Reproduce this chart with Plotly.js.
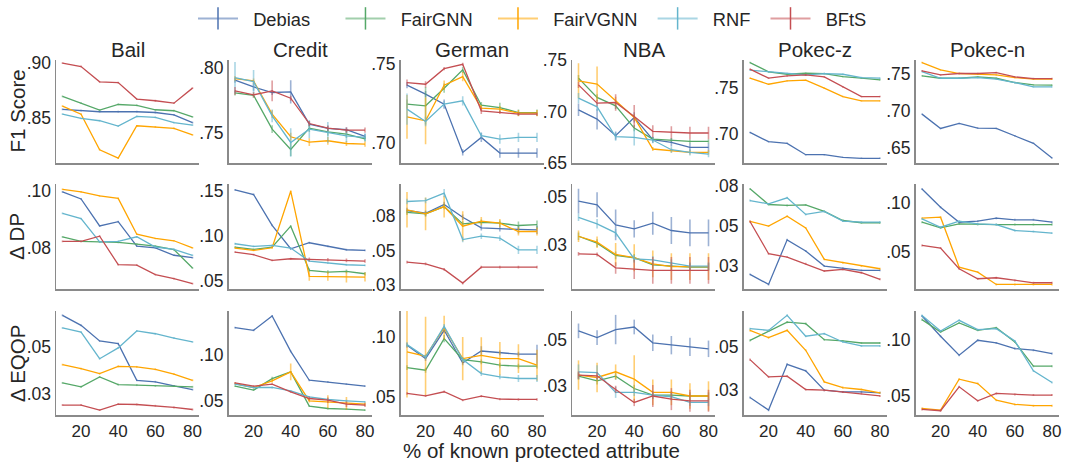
<!DOCTYPE html>
<html>
<head>
<meta charset="utf-8">
<script src="https://cdn.plot.ly/plotly-3.0.1.min.js"></script>
<style>html,body{margin:0;padding:0;background:#fff;}#chart{width:1066px;height:462px;}</style>
</head>
<body>
<div id="chart"></div>
<script>
// ---------------- data ----------------
const X = [10, 20, 30, 40, 50, 60, 70, 80];
const methods = ["Debias", "FairGNN", "FairVGNN", "RNF", "BFtS"];
const datasets = ["Bail", "Credit", "German", "NBA", "Pokec-z", "Pokec-n"];
const metrics = ["F1 Score", "Δ DP", "Δ EQOP"];
const xTickVals = [20, 40, 60, 80];

// rows: Debias, FairGNN, FairVGNN, RNF, BFtS
const F1_Bail = [
  [0.8573, 0.8561, 0.8552, 0.8552, 0.8552, 0.8545, 0.8524, 0.8452],
  [0.8691, 0.8630, 0.8567, 0.8618, 0.8609, 0.8570, 0.8561, 0.8506],
  [0.8603, 0.8530, 0.8206, 0.8130, 0.8424, 0.8415, 0.8400, 0.8342],
  [0.8530, 0.8491, 0.8470, 0.8421, 0.8509, 0.8500, 0.8452, 0.8430],
  [0.8995, 0.8964, 0.8824, 0.8818, 0.8667, 0.8652, 0.8630, 0.8767]];
const F1_Credit = [
  [0.7903, 0.7851, 0.7808, 0.7813, 0.7564, 0.7531, 0.7521, 0.7470],
  [0.7805, 0.7787, 0.7526, 0.7369, 0.7533, 0.7505, 0.7487, 0.7450],
  [0.7915, 0.7897, 0.7641, 0.7467, 0.7426, 0.7436, 0.7415, 0.7410],
  [0.7923, 0.7892, 0.7628, 0.7423, 0.7526, 0.7500, 0.7474, 0.7462],
  [0.7821, 0.7790, 0.7821, 0.7764, 0.7569, 0.7533, 0.7518, 0.7518]];
const F1_German = [
  [0.7366, 0.7309, 0.7245, 0.6936, 0.7032, 0.6932, 0.6932, 0.6932],
  [0.7245, 0.7234, 0.7347, 0.7464, 0.7238, 0.7223, 0.7191, 0.7191],
  [0.7164, 0.7138, 0.7366, 0.7421, 0.7219, 0.7213, 0.7187, 0.7187],
  [0.7213, 0.7134, 0.7245, 0.7266, 0.7043, 0.7021, 0.7032, 0.7032],
  [0.7383, 0.7372, 0.7472, 0.7500, 0.7202, 0.7191, 0.7181, 0.7181]];
const F1_NBA = [
  [0.7019, 0.6929, 0.6768, 0.6945, 0.6729, 0.6703, 0.6655, 0.6655],
  [0.7326, 0.7139, 0.7058, 0.6842, 0.6735, 0.6726, 0.6713, 0.6713],
  [0.7300, 0.7268, 0.7106, 0.6945, 0.6639, 0.6623, 0.6606, 0.6606],
  [0.7132, 0.7048, 0.6758, 0.6752, 0.6726, 0.6632, 0.6606, 0.6590],
  [0.7261, 0.7084, 0.7090, 0.6955, 0.6810, 0.6800, 0.6794, 0.6794]];
const F1_PokecZ = [
  [0.7018, 0.6917, 0.6899, 0.6775, 0.6775, 0.6746, 0.6736, 0.6736],
  [0.7779, 0.7678, 0.7652, 0.7663, 0.7659, 0.7627, 0.7609, 0.7591],
  [0.7609, 0.7543, 0.7580, 0.7587, 0.7500, 0.7409, 0.7362, 0.7362],
  [0.7696, 0.7678, 0.7659, 0.7645, 0.7659, 0.7652, 0.7616, 0.7609],
  [0.7707, 0.7609, 0.7634, 0.7645, 0.7623, 0.7514, 0.7409, 0.7409]];
const F1_PokecN = [
  [0.6955, 0.6761, 0.6829, 0.6766, 0.6761, 0.6662, 0.6559, 0.6360],
  [0.7473, 0.7441, 0.7441, 0.7459, 0.7441, 0.7383, 0.7351, 0.7347],
  [0.7653, 0.7554, 0.7505, 0.7495, 0.7486, 0.7450, 0.7428, 0.7428],
  [0.7532, 0.7441, 0.7441, 0.7450, 0.7428, 0.7383, 0.7324, 0.7324],
  [0.7541, 0.7486, 0.7505, 0.7505, 0.7518, 0.7459, 0.7437, 0.7437]];

const DP_Bail = [
  [0.0996, 0.0971, 0.0876, 0.0891, 0.0805, 0.0799, 0.0773, 0.0765],
  [0.0838, 0.0822, 0.0820, 0.0818, 0.0812, 0.0805, 0.0793, 0.0728],
  [0.1005, 0.0996, 0.0982, 0.0973, 0.0847, 0.0832, 0.0824, 0.0799],
  [0.0920, 0.0902, 0.0820, 0.0822, 0.0838, 0.0802, 0.0794, 0.0773],
  [0.0822, 0.0822, 0.0840, 0.0740, 0.0738, 0.0705, 0.0691, 0.0673]];
const DP_Credit = [
  [0.1515, 0.1463, 0.1119, 0.0859, 0.0926, 0.0885, 0.0848, 0.0841],
  [0.0878, 0.0852, 0.0878, 0.1111, 0.0619, 0.0600, 0.0607, 0.0581],
  [0.0867, 0.0841, 0.0870, 0.1500, 0.0552, 0.0552, 0.0544, 0.0544],
  [0.0915, 0.0885, 0.0896, 0.0867, 0.0722, 0.0700, 0.0681, 0.0674],
  [0.0822, 0.0793, 0.0730, 0.0748, 0.0741, 0.0737, 0.0730, 0.0722]];
const DP_German = [
  [0.0793, 0.0773, 0.0837, 0.0744, 0.0666, 0.0659, 0.0654, 0.0651],
  [0.0780, 0.0768, 0.0822, 0.0695, 0.0707, 0.0700, 0.0683, 0.0690],
  [0.0798, 0.0768, 0.0822, 0.0678, 0.0715, 0.0700, 0.0639, 0.0639],
  [0.0859, 0.0866, 0.0920, 0.0580, 0.0605, 0.0590, 0.0505, 0.0505],
  [0.0415, 0.0402, 0.0361, 0.0261, 0.0378, 0.0378, 0.0378, 0.0378]];
const DP_NBA = [
  [0.0476, 0.0457, 0.0352, 0.0332, 0.0361, 0.0323, 0.0311, 0.0311],
  [0.0293, 0.0257, 0.0193, 0.0181, 0.0144, 0.0137, 0.0132, 0.0132],
  [0.0293, 0.0262, 0.0198, 0.0181, 0.0149, 0.0135, 0.0135, 0.0135],
  [0.0392, 0.0358, 0.0311, 0.0175, 0.0170, 0.0153, 0.0137, 0.0137],
  [0.0201, 0.0198, 0.0128, 0.0120, 0.0115, 0.0115, 0.0115, 0.0115]];
const DP_PokecZ = [
  [0.0194, 0.0131, 0.0410, 0.0340, 0.0246, 0.0233, 0.0219, 0.0219],
  [0.0729, 0.0631, 0.0625, 0.0629, 0.0588, 0.0531, 0.0517, 0.0517],
  [0.0525, 0.0496, 0.0558, 0.0485, 0.0288, 0.0267, 0.0246, 0.0229],
  [0.0656, 0.0635, 0.0673, 0.0569, 0.0588, 0.0527, 0.0521, 0.0521],
  [0.0525, 0.0323, 0.0302, 0.0260, 0.0215, 0.0225, 0.0204, 0.0163]];
const DP_PokecN = [
  [0.1142, 0.0956, 0.0804, 0.0814, 0.0845, 0.0828, 0.0828, 0.0804],
  [0.0804, 0.0747, 0.0787, 0.0780, 0.0780, 0.0780, 0.0780, 0.0780],
  [0.0845, 0.0855, 0.0348, 0.0297, 0.0172, 0.0172, 0.0172, 0.0172],
  [0.0838, 0.0753, 0.0814, 0.0787, 0.0780, 0.0720, 0.0709, 0.0693],
  [0.0568, 0.0541, 0.0331, 0.0230, 0.0240, 0.0213, 0.0189, 0.0189]];

const EQ_Bail = [
  [0.0670, 0.0616, 0.0532, 0.0518, 0.0321, 0.0313, 0.0291, 0.0271],
  [0.0307, 0.0286, 0.0339, 0.0298, 0.0295, 0.0291, 0.0291, 0.0286],
  [0.0405, 0.0384, 0.0357, 0.0396, 0.0393, 0.0380, 0.0354, 0.0321],
  [0.0602, 0.0580, 0.0437, 0.0495, 0.0586, 0.0571, 0.0548, 0.0527],
  [0.0188, 0.0188, 0.0161, 0.0193, 0.0191, 0.0184, 0.0175, 0.0164]];
const EQ_Credit = [
  [0.1301, 0.1272, 0.1428, 0.1043, 0.0728, 0.0710, 0.0685, 0.0663],
  [0.0663, 0.0620, 0.0746, 0.0819, 0.0446, 0.0420, 0.0413, 0.0402],
  [0.0692, 0.0649, 0.0721, 0.0819, 0.0504, 0.0493, 0.0475, 0.0467],
  [0.0685, 0.0649, 0.0649, 0.0612, 0.0547, 0.0518, 0.0504, 0.0493],
  [0.0699, 0.0663, 0.0685, 0.0601, 0.0529, 0.0511, 0.0467, 0.0457]];
const EQ_German = [
  [0.0931, 0.0819, 0.1056, 0.0783, 0.0883, 0.0867, 0.0856, 0.0856],
  [0.0744, 0.0722, 0.0986, 0.0811, 0.0792, 0.0764, 0.0756, 0.0756],
  [0.0875, 0.0839, 0.1078, 0.0819, 0.0847, 0.0819, 0.0819, 0.0764],
  [0.0936, 0.0833, 0.1089, 0.0811, 0.0694, 0.0667, 0.0653, 0.0653],
  [0.0528, 0.0508, 0.0542, 0.0472, 0.0506, 0.0481, 0.0478, 0.0478]];
const EQ_NBA = [
  [0.0551, 0.0514, 0.0558, 0.0572, 0.0486, 0.0473, 0.0464, 0.0453],
  [0.0304, 0.0279, 0.0304, 0.0237, 0.0201, 0.0201, 0.0196, 0.0196],
  [0.0310, 0.0297, 0.0328, 0.0288, 0.0216, 0.0216, 0.0196, 0.0196],
  [0.0328, 0.0324, 0.0216, 0.0216, 0.0201, 0.0192, 0.0161, 0.0161],
  [0.0310, 0.0306, 0.0232, 0.0161, 0.0196, 0.0179, 0.0170, 0.0170]];
const EQ_PokecZ = [
  [0.0208, 0.0135, 0.0400, 0.0362, 0.0250, 0.0240, 0.0240, 0.0235],
  [0.0538, 0.0592, 0.0644, 0.0635, 0.0542, 0.0535, 0.0523, 0.0523],
  [0.0596, 0.0554, 0.0596, 0.0481, 0.0298, 0.0265, 0.0254, 0.0235],
  [0.0606, 0.0596, 0.0683, 0.0562, 0.0577, 0.0529, 0.0506, 0.0506],
  [0.0427, 0.0327, 0.0331, 0.0254, 0.0250, 0.0240, 0.0231, 0.0217]];
const EQ_PokecN = [
  [0.1217, 0.1036, 0.0866, 0.1000, 0.0976, 0.0926, 0.0911, 0.0881],
  [0.1185, 0.1074, 0.1155, 0.1089, 0.1113, 0.0985, 0.0768, 0.0768],
  [0.0390, 0.0375, 0.0652, 0.0613, 0.0464, 0.0426, 0.0414, 0.0414],
  [0.1223, 0.1083, 0.1179, 0.1095, 0.1104, 0.0994, 0.0726, 0.0622],
  [0.0381, 0.0369, 0.0583, 0.0458, 0.0524, 0.0515, 0.0509, 0.0509]];

// standard deviations (error bars), same layout
const ERR_F1_Bail = [
  [0.0008,0.0008,0.0008,0.0008,0.0008,0.0008,0.0008,0.0008],
  [0.0008,0.0008,0.0008,0.0008,0.0008,0.0008,0.0008,0.0008],
  [0.0008,0.0008,0.0008,0.0008,0.0008,0.0008,0.0008,0.0008],
  [0.0008,0.0008,0.0008,0.0008,0.0008,0.0008,0.0008,0.0008],
  [0.0008,0.0008,0.0008,0.0008,0.0008,0.0008,0.0008,0.0008]];
const ERR_F1_Credit = [
  [0.002, 0.003, 0.002, 0.009, 0.002, 0.002, 0.002, 0.002],
  [0.002, 0.002, 0.003, 0.005, 0.003, 0.003, 0.003, 0.002],
  [0.002, 0.002, 0.003, 0.003, 0.003, 0.003, 0.002, 0.002],
  [0.012, 0.009, 0.005, 0.011, 0.007, 0.008, 0.005, 0.003],
  [0.003, 0.002, 0.008, 0.002, 0.002, 0.002, 0.002, 0.002]];
const ERR_F1_German = [
  [0.002, 0.002, 0.003, 0.002, 0.003, 0.003, 0.003, 0.003],
  [0.003, 0.012, 0.003, 0.002, 0.002, 0.003, 0.002, 0.002],
  [0.014, 0.015, 0.003, 0.003, 0.002, 0.002, 0.002, 0.002],
  [0.010, 0.003, 0.002, 0.003, 0.002, 0.003, 0.003, 0.003],
  [0.002, 0.002, 0.001, 0.001, 0.002, 0.001, 0.001, 0.001]];
const ERR_F1_NBA = [
  [0.006, 0.010, 0.004, 0.005, 0.003, 0.004, 0.004, 0.004],
  [0.003, 0.003, 0.003, 0.003, 0.002, 0.002, 0.002, 0.002],
  [0.017, 0.017, 0.004, 0.003, 0.002, 0.002, 0.002, 0.002],
  [0.005, 0.004, 0.004, 0.008, 0.003, 0.003, 0.003, 0.003],
  [0.003, 0.003, 0.008, 0.011, 0.006, 0.006, 0.006, 0.006]];
const ERR_F1_PokecZ = [
  [0.0008,0.0008,0.0008,0.0008,0.0008,0.0008,0.0008,0.0008],
  [0.0008,0.0008,0.0008,0.0008,0.0008,0.0008,0.0008,0.0008],
  [0.0008,0.0008,0.0008,0.0008,0.0008,0.0008,0.0008,0.0008],
  [0.0008,0.0008,0.0008,0.0008,0.0008,0.0008,0.0008,0.0008],
  [0.0008,0.0008,0.0008,0.0008,0.0008,0.0008,0.0008,0.0008]];
const ERR_F1_PokecN = [
  [0.001,0.001,0.001,0.001,0.001,0.001,0.001,0.001],
  [0.001,0.001,0.001,0.001,0.001,0.001,0.001,0.001],
  [0.001,0.001,0.001,0.001,0.001,0.001,0.001,0.001],
  [0.001,0.001,0.001,0.001,0.001,0.001,0.001,0.001],
  [0.001,0.001,0.001,0.001,0.001,0.001,0.001,0.001]];

const ERR_DP_Bail = [
  [0.0003,0.0003,0.0003,0.0003,0.0003,0.0003,0.0003,0.0003],
  [0.0003,0.0003,0.0003,0.0003,0.0003,0.0003,0.0003,0.0003],
  [0.0003,0.0003,0.0003,0.0003,0.0003,0.0003,0.0003,0.0003],
  [0.0003,0.0003,0.0003,0.0003,0.0003,0.0003,0.0003,0.0003],
  [0.0003,0.0003,0.0003,0.0003,0.0003,0.0003,0.0003,0.0003]];
const ERR_DP_Credit = [
  [0.001, 0.001, 0.001, 0.001, 0.001, 0.001, 0.001, 0.001],
  [0.001, 0.001, 0.001, 0.001, 0.002, 0.002, 0.002, 0.002],
  [0.001, 0.001, 0.001, 0.001, 0.005, 0.005, 0.006, 0.005],
  [0.001, 0.001, 0.001, 0.001, 0.001, 0.001, 0.001, 0.001],
  [0.001, 0.001, 0.001, 0.001, 0.002, 0.002, 0.002, 0.002]];
const ERR_DP_German = [
  [0.002, 0.002, 0.002, 0.002, 0.002, 0.002, 0.003, 0.003],
  [0.002, 0.002, 0.002, 0.002, 0.002, 0.002, 0.003, 0.003],
  [0.013, 0.012, 0.008, 0.011, 0.003, 0.003, 0.003, 0.003],
  [0.002, 0.002, 0.003, 0.002, 0.002, 0.002, 0.003, 0.003],
  [0.001, 0.001, 0.001, 0.001, 0.001, 0.001, 0.001, 0.001]];
const ERR_DP_NBA = [
  [0.0065, 0.0065, 0.008, 0.0045, 0.006, 0.007, 0.007, 0.007],
  [0.002, 0.002, 0.002, 0.002, 0.002, 0.002, 0.002, 0.002],
  [0.003, 0.003, 0.006, 0.007, 0.007, 0.007, 0.007, 0.007],
  [0.002, 0.0025, 0.002, 0.002, 0.002, 0.002, 0.002, 0.002],
  [0.001, 0.001, 0.003, 0.005, 0.007, 0.007, 0.007, 0.007]];
const ERR_DP_PokecZ = [
  [0.0006,0.0006,0.0006,0.0006,0.0006,0.0006,0.0006,0.0006],
  [0.0006,0.0006,0.0006,0.0006,0.0006,0.0006,0.0006,0.0006],
  [0.0006,0.0006,0.0006,0.0006,0.0006,0.0006,0.0006,0.0006],
  [0.0006,0.0006,0.0006,0.0006,0.0006,0.0006,0.0006,0.0006],
  [0.0006,0.0006,0.0006,0.0006,0.0006,0.0006,0.0006,0.0006]];
const ERR_DP_PokecN = [
  [0.001,0.001,0.001,0.001,0.001,0.001,0.001,0.001],
  [0.001,0.001,0.001,0.001,0.001,0.001,0.001,0.001],
  [0.001,0.001,0.001,0.001,0.001,0.001,0.001,0.001],
  [0.001,0.001,0.001,0.001,0.001,0.001,0.001,0.001],
  [0.001,0.001,0.001,0.001,0.001,0.001,0.001,0.001]];

const ERR_EQ_Bail = [
  [0.0005,0.0005,0.0005,0.0005,0.0005,0.0005,0.0005,0.0005],
  [0.0005,0.0005,0.0005,0.0005,0.0005,0.0005,0.0005,0.0005],
  [0.0005,0.0005,0.0005,0.0005,0.0005,0.0005,0.0005,0.0005],
  [0.0005,0.0005,0.0005,0.0005,0.0005,0.0005,0.0005,0.0005],
  [0.0005,0.0005,0.0005,0.0005,0.0005,0.0005,0.0005,0.0005]];
const ERR_EQ_Credit = [
  [0.001, 0.001, 0.001, 0.001, 0.001, 0.001, 0.001, 0.001],
  [0.001, 0.001, 0.002, 0.001, 0.001, 0.001, 0.001, 0.001],
  [0.001, 0.001, 0.002, 0.009, 0.002, 0.007, 0.007, 0.002],
  [0.001, 0.001, 0.001, 0.001, 0.001, 0.001, 0.001, 0.001],
  [0.001, 0.001, 0.001, 0.001, 0.002, 0.003, 0.003, 0.002]];
const ERR_EQ_German = [
  [0.002, 0.002, 0.002, 0.002, 0.004, 0.002, 0.002, 0.008],
  [0.002, 0.002, 0.003, 0.002, 0.002, 0.002, 0.002, 0.002],
  [0.038, 0.033, 0.010, 0.018, 0.015, 0.014, 0.012, 0.013],
  [0.002, 0.002, 0.002, 0.002, 0.002, 0.002, 0.003, 0.003],
  [0.001, 0.001, 0.001, 0.001, 0.001, 0.001, 0.001, 0.001]];
const ERR_EQ_NBA = [
  [0.004, 0.004, 0.008, 0.004, 0.0045, 0.005, 0.005, 0.0045],
  [0.002, 0.002, 0.002, 0.002, 0.002, 0.002, 0.002, 0.002],
  [0.008, 0.008, 0.004, 0.013, 0.007, 0.007, 0.007, 0.008],
  [0.004, 0.004, 0.003, 0.002, 0.002, 0.002, 0.002, 0.002],
  [0.002, 0.002, 0.002, 0.002, 0.006, 0.006, 0.006, 0.006]];
const ERR_EQ_PokecZ = [
  [0.0006,0.0006,0.0006,0.0006,0.0006,0.0006,0.0006,0.0006],
  [0.0006,0.0006,0.0006,0.0006,0.0006,0.0006,0.0006,0.0006],
  [0.0006,0.0006,0.0006,0.0006,0.0006,0.0006,0.0006,0.0006],
  [0.0006,0.0006,0.0006,0.0006,0.0006,0.0006,0.0006,0.0006],
  [0.0006,0.0006,0.0006,0.0006,0.0006,0.0006,0.0006,0.0006]];
const ERR_EQ_PokecN = [
  [0.0009,0.0009,0.0009,0.0009,0.0009,0.0009,0.0009,0.0009],
  [0.0009,0.0009,0.0009,0.0009,0.0009,0.0009,0.0009,0.0009],
  [0.0009,0.0009,0.0009,0.0009,0.0009,0.0009,0.0009,0.0009],
  [0.0009,0.0009,0.0009,0.0009,0.0009,0.0009,0.0009,0.0009],
  [0.0009,0.0009,0.0009,0.0009,0.0009,0.0009,0.0009,0.0009]];

// y tick values and labels per panel
const yTickVals = [
  [[0.85, 0.90], [0.75, 0.80], [0.70, 0.75], [0.65, 0.70, 0.75], [0.70, 0.75], [0.65, 0.70, 0.75]],
  [[0.08, 0.10], [0.05, 0.10, 0.15], [0.025, 0.05, 0.075], [0.025, 0.05], [0.025, 0.05, 0.075], [0.05, 0.10]],
  [[0.025, 0.05], [0.05, 0.10], [0.05, 0.10], [0.025, 0.05], [0.025, 0.05], [0.05, 0.10]]];
const yTickText = [
  [[".85", ".90"], [".75", ".80"], [".70", ".75"], [".65", ".70", ".75"], [".70", ".75"], [".65", ".70", ".75"]],
  [[".08", ".10"], [".05", ".10", ".15"], [".03", ".05", ".08"], [".03", ".05"], [".03", ".05", ".08"], [".05", ".10"]],
  [[".03", ".05"], [".05", ".10"], [".05", ".10"], [".03", ".05"], [".03", ".05"], [".05", ".10"]]];

// ---------------- styling ----------------
const colors = ["#4C72B0", "#55A868", "#FFA500", "#64B5CD", "#C44E52"];
const alphaColors = ["rgba(76,114,176,0.55)", "rgba(85,168,104,0.55)", "rgba(255,165,0,0.55)", "rgba(100,181,205,0.55)", "rgba(196,78,82,0.55)"];
const yRanges = [
  [[0.8082, 0.9027], [0.7262, 0.8062], [0.6866, 0.7530], [0.6500, 0.7506], [0.6681, 0.7812], [0.6288, 0.7694]],
  [[0.0653, 0.1024], [0.0407, 0.1581], [0.0215, 0.0988], [0.0016, 0.0566], [0.0100, 0.0760], [0.0122, 0.1193]],
  [[0.0134, 0.0693], [0.0348, 0.1482], [0.0347, 0.1217], [0.0092, 0.0659], [0.0106, 0.0708], [0.0330, 0.1262]]];

const values = [
  [F1_Bail, F1_Credit, F1_German, F1_NBA, F1_PokecZ, F1_PokecN],
  [DP_Bail, DP_Credit, DP_German, DP_NBA, DP_PokecZ, DP_PokecN],
  [EQ_Bail, EQ_Credit, EQ_German, EQ_NBA, EQ_PokecZ, EQ_PokecN]];
const errors = [
  [ERR_F1_Bail, ERR_F1_Credit, ERR_F1_German, ERR_F1_NBA, ERR_F1_PokecZ, ERR_F1_PokecN],
  [ERR_DP_Bail, ERR_DP_Credit, ERR_DP_German, ERR_DP_NBA, ERR_DP_PokecZ, ERR_DP_PokecN],
  [ERR_EQ_Bail, ERR_EQ_Credit, ERR_EQ_German, ERR_EQ_NBA, ERR_EQ_PokecZ, ERR_EQ_PokecN]];

const W = 1066, H = 462;
const colLeft = [56, 228.5, 400.5, 572, 743.5, 915.5];
const colW = 143;
const rowPx = [[58.7, 162.7], [183.3, 289], [310.7, 415]];
const FONT = "Liberation Sans, Arial, sans-serif";
const TXT = "#262626";
const NB = "\u00A0";
const legendTrail = [5, 3, 2, 2, 3];  // spacing after each legend label (non-breaking spaces)

const traces = [];
const layout = {
  width: W, height: H,
  margin: {l: 0, r: 0, t: 0, b: 0},
  paper_bgcolor: "#fff", plot_bgcolor: "#fff",
  font: {family: FONT, color: TXT, size: 17},
  showlegend: true,
  legend: {
    orientation: "h", x: 193 / W, xanchor: "left", y: 1 - 18 / H, yanchor: "middle",
    font: {family: FONT, size: 18.3, color: TXT}, itemwidth: 40, traceorder: "normal",
    bgcolor: "rgba(0,0,0,0)"
  },
  annotations: []
};

for (let r = 0; r < 3; r++) {
  for (let c = 0; c < 6; c++) {
    const k = r * 6 + c + 1;
    const xs = k === 1 ? "" : String(k);
    const xa = "xaxis" + xs, ya = "yaxis" + xs;
    layout[xa] = {
      domain: [colLeft[c] / W, (colLeft[c] + colW) / W],
      range: [6.5, 83.5], anchor: "y" + xs,
      showgrid: false, zeroline: false, showline: true, linecolor: "#8a8a8a", linewidth: 1.5,
      ticks: "", tickvals: xTickVals, showticklabels: r === 2,
      tickfont: {family: FONT, size: 17, color: TXT}, fixedrange: true
    };
    layout[ya] = {
      domain: [1 - rowPx[r][1] / H, 1 - rowPx[r][0] / H],
      range: yRanges[r][c], anchor: "x" + xs,
      showgrid: false, zeroline: false, showline: true, linecolor: "#8a8a8a", linewidth: 1.5,
      ticks: "", tickvals: yTickVals[r][c], ticktext: yTickText[r][c],
      tickfont: {family: FONT, size: 17.5, color: TXT}, fixedrange: true
    };
    for (let m = 0; m < methods.length; m++) {
      traces.push({
        type: "scatter", mode: "lines", x: X, y: values[r][c][m],
        xaxis: "x" + xs, yaxis: "y" + xs, name: methods[m], showlegend: false,
        line: {color: colors[m], width: 1.3},
        error_y: {type: "data", array: errors[r][c][m], visible: true, color: alphaColors[m], thickness: 1.6, width: 0},
        hoverinfo: "skip"
      });
    }
  }
  // row (metric) label
  layout.annotations.push({
    text: metrics[r], xref: "paper", yref: "paper", x: 17 / W, y: 1 - (rowPx[r][0] + rowPx[r][1]) / 2 / H,
    xanchor: "center", yanchor: "middle", textangle: -90, showarrow: false,
    font: {family: FONT, size: 20.5, color: TXT}
  });
}
// dataset titles
for (let c = 0; c < 6; c++) {
  layout.annotations.push({
    text: datasets[c], xref: "paper", yref: "paper", x: (colLeft[c] + colW / 2) / W, y: 1 - 62 / H,
    xanchor: "center", yanchor: "bottom", showarrow: false,
    font: {family: FONT, size: 20.5, color: TXT}
  });
}
// x-axis label
layout.annotations.push({
  text: "% of known protected attribute", xref: "paper", yref: "paper", x: 541 / W, y: 1 - 450 / H,
  xanchor: "center", yanchor: "middle", showarrow: false,
  font: {family: FONT, size: 20.5, color: TXT}
});
// legend-only entries
for (let m = 0; m < methods.length; m++) {
  traces.push({
    type: "scatter", mode: "lines+markers", x: [null], y: [null],
    name: NB + NB + methods[m] + NB.repeat(legendTrail[m]),
    xaxis: "x", yaxis: "y", showlegend: true,
    line: {color: alphaColors[m], width: 2},
    marker: {symbol: "line-ns-open", size: 16, color: colors[m], line: {color: colors[m], width: 1.5}},
    hoverinfo: "skip"
  });
}

Plotly.newPlot("chart", traces, layout, {displayModeBar: false, staticPlot: true});
</script>
</body>
</html>
